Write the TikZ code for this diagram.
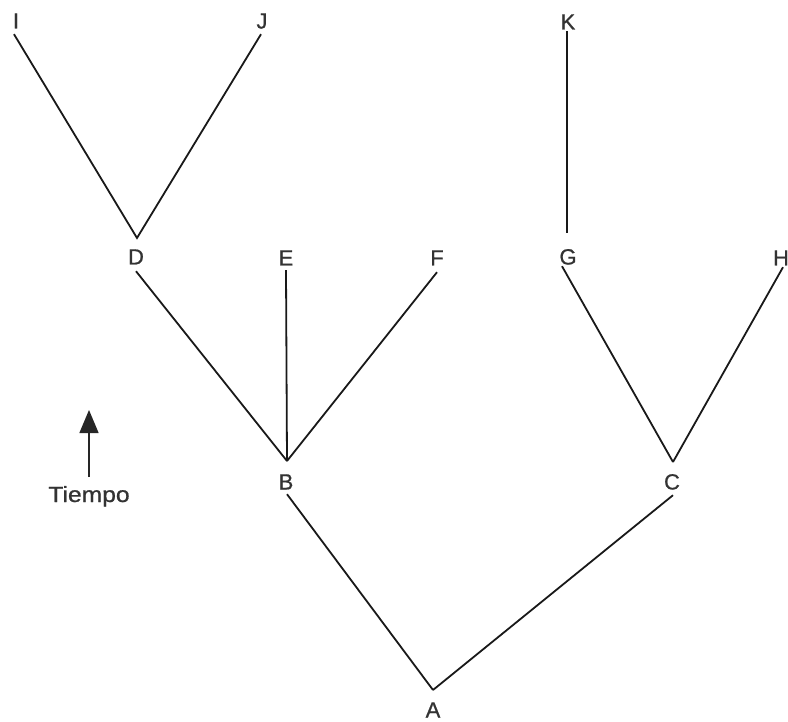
\documentclass[tikz,border=0pt]{standalone}
\usepackage{fontspec}
\setmainfont{Liberation Sans}
\newfontfamily\lblfont[FakeBold=0.8]{Liberation Sans}
\usetikzlibrary{arrows.meta}
\begin{document}
\begin{tikzpicture}[x=1pt,y=-1pt,
  lbl/.style={font=\lblfont\fontsize{22}{26}\selectfont, text height=15pt, text depth=0pt, inner xsep=0pt, inner ysep=5.5pt, text=black!80},
  branch/.style={line width=1.8pt, black!90},
  timearrow/.style={line width=1.5pt, black!85, -{Triangle[length=23pt,width=19pt]}}]
\useasboundingbox (0,0) rectangle (788,722);
% labels
\node[lbl] (I) at (16,21) {I};
\node[lbl] (J) at (262,21) {J};
\node[lbl] (K) at (568,22) {K};
\node[lbl] (D) at (136,257) {D};
\node[lbl] (E) at (286,258) {E};
\node[lbl] (F) at (437,258) {F};
\node[lbl] (G) at (568,257) {G};
\node[lbl] (H) at (781,258) {H};
\node[lbl] (B) at (286,482) {B};
\node[lbl] (C) at (672,482) {C};
\node[lbl] (A) at (433,710) {A};
% branching points
\coordinate (Dv) at (137,238);
\coordinate (Bv) at (287,461);
\coordinate (Cv) at (673,462);
\coordinate (Av) at (433,690);
\coordinate (Gv) at (567,233);
% branches
\draw[branch] ([xshift=-2pt]I.south) -- (Dv) -- ([xshift=-1pt]J.south);
\draw[branch] ([yshift=4pt,xshift=-1pt]K.south) -- (Gv);
\draw[branch] ([yshift=-1pt]D.south) -- (Bv);
\draw[branch] ([yshift=1pt]E.south) -- (Bv);
\draw[branch] ([yshift=-1pt]F.south) -- (Bv);
\draw[branch] ([xshift=-6pt,yshift=4pt]G.south) -- (Cv);
\draw[branch] ([xshift=2pt,yshift=4pt]H.south) -- (Cv);
\draw[branch] ([xshift=1pt,yshift=1pt]B.south) -- (Av);
\draw[branch] ([xshift=1pt]C.south) -- (Av);
% time arrow
\node[font=\lblfont\fontsize{22}{26}\selectfont, text=black!80, anchor=base, inner sep=0pt, xscale=1.12] (T) at (89,502) {Tiempo};
\coordinate (Tb) at (89,477);
\coordinate (Tt) at (89,410);
\draw[timearrow] (Tb) -- (Tt);
\end{tikzpicture}
\end{document}
